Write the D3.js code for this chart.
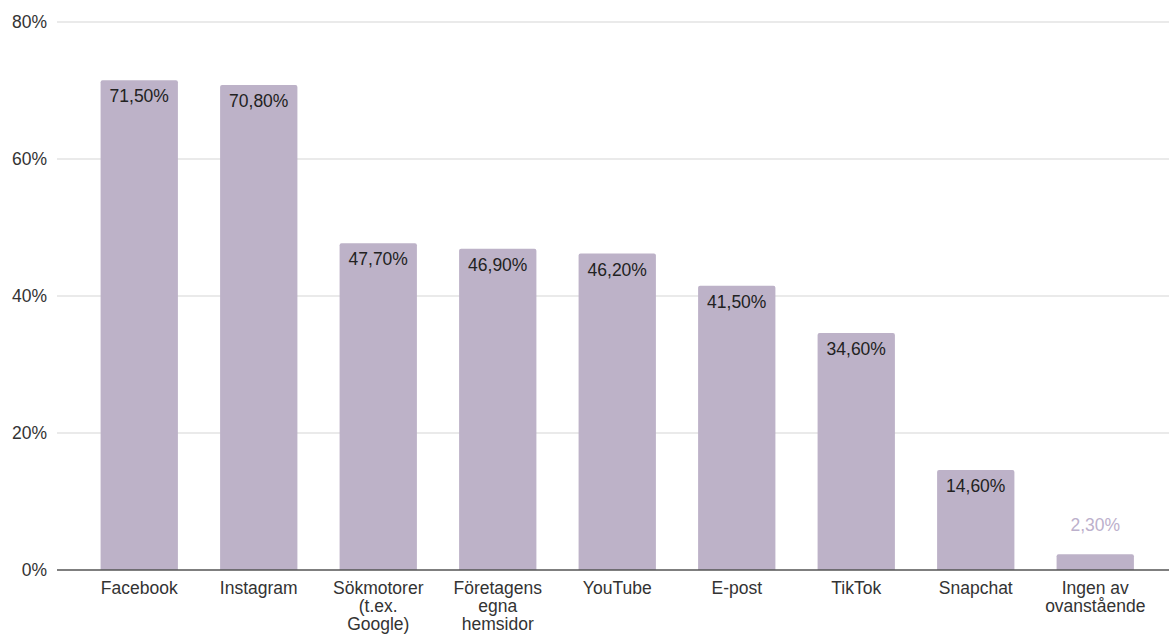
<!DOCTYPE html>
<html><head><meta charset="utf-8">
<script src="https://cdn.jsdelivr.net/npm/d3@7"></script>
<style>body{margin:0;background:#fff}svg{display:block;font-family:Arial,"Liberation Sans",sans-serif}</style>
</head><body><svg id="c" width="1169" height="637"></svg>
<script>
const categories = [["Facebook"],["Instagram"],["Sökmotorer","(t.ex.","Google)"],["Företagens","egna","hemsidor"],["YouTube"],["E-post"],["TikTok"],["Snapchat"],["Ingen av","ovanstående"]];
const values = [71.5,70.8,47.7,46.9,46.2,41.5,34.6,14.6,2.3];
const yTicks = [0,20,40,60,80];
const fmt = v => v.toFixed(2).replace(".", ",") + "%";

const svg = d3.select("#c");
const keys = categories.map(c => c.join(" "));
const x = d3.scaleBand().domain(keys).range([79.5, 1155]).paddingInner(0.353).paddingOuter(0.1765);
const y = d3.scaleLinear().domain([0,80]).range([570,22]);
const FS = 17.5;

// grid
svg.append("g").selectAll("line").data(yTicks.filter(d=>d>0)).join("line")
  .attr("x1",57).attr("x2",1169).attr("y1",d=>y(d)).attr("y2",d=>y(d))
  .attr("stroke","#e3e3e3").attr("stroke-width",1.5);
svg.append("g").selectAll("text").data(yTicks).join("text")
  .attr("x",47).attr("y",d=>y(d)+6).attr("text-anchor","end")
  .attr("font-size",FS).attr("fill","#333").text(d=>d+"%");

// bars
const r = 2;
svg.append("g").selectAll("path").data(values).join("path")
  .attr("fill","#bdb2c8")
  .attr("d",(d,i)=>{
    const x0=x(keys[i]), w=x.bandwidth(), y0=y(d), y1=y(0);
    return `M${x0},${y1}V${y0+r}Q${x0},${y0} ${x0+r},${y0}H${x0+w-r}Q${x0+w},${y0} ${x0+w},${y0+r}V${y1}Z`;
  });

// value labels
svg.append("g").selectAll("text").data(values).join("text")
  .attr("x",(d,i)=>x(keys[i])+x.bandwidth()/2)
  .attr("y",d=> (y(0)-y(d))>30 ? y(d)+22 : y(d)-23)
  .attr("text-anchor","middle").attr("font-size",FS)
  .attr("fill",d=> (y(0)-y(d))>30 ? "#222" : "#bcb0cc")
  .text(fmt);

// baseline
svg.append("line").attr("x1",57).attr("x2",1169).attr("y1",y(0)).attr("y2",y(0))
  .attr("stroke","#555").attr("stroke-width",1.5);

// x labels
const xl = svg.append("g").selectAll("text").data(categories).join("text")
  .attr("text-anchor","middle").attr("font-size",FS).attr("fill","#333")
  .attr("transform",(d,i)=>`translate(${x(keys[i])+x.bandwidth()/2},594)`);
xl.selectAll("tspan").data(d=>d).join("tspan").attr("x",0).attr("dy",(d,j)=>j?18:0).text(d=>d);
</script></body></html>
